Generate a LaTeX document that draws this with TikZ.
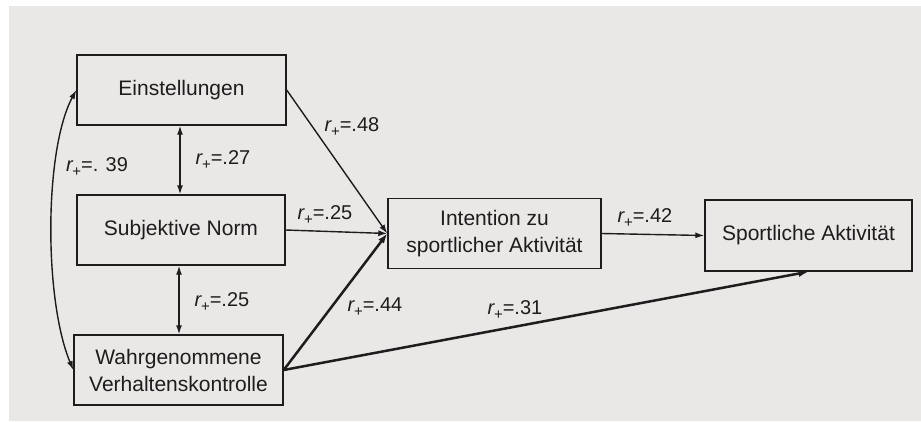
\documentclass[tikz,border=0pt]{standalone}
\usepackage{fontspec}
\setmainfont{Liberation Sans}
\usetikzlibrary{arrows.meta}
\definecolor{paper}{RGB}{234,232,231}
\definecolor{ink}{RGB}{30,28,28}
\newcommand{\rp}[1]{\textit{r}\kern-1pt\raisebox{-0.5ex}{\fontsize{15}{15}\selectfont +}=#1}
\begin{document}
\begin{tikzpicture}[x=1pt,y=-1pt,
  box/.style={draw=ink,line width=1.4pt,rectangle,inner sep=0pt,align=center,
    font=\fontsize{21}{27}\selectfont,text=ink},
  lbl/.style={font=\fontsize{20}{24}\selectfont,text=ink,inner sep=0pt},
  conn/.style={draw=ink,line width=1.4pt,-{Latex[length=9pt,width=6pt]}},
  dconn/.style={draw=ink,line width=1.4pt,{Latex[length=9pt,width=6pt]}-{Latex[length=9pt,width=6pt]}},
  thick conn/.style={draw=ink,line width=2.5pt,-{Latex[length=10pt,width=7pt]}}]
\useasboundingbox (0,0) rectangle (921,421);
\fill[white] (0,0) rectangle (921,421);
\fill[paper] (9,6) rectangle (921,421);
\node[box,minimum width=209pt,minimum height=70pt] (E) at (181.5,90) {Einstellungen};
\node[box,minimum width=208pt,minimum height=70pt] (S) at (181,230) {Subjektive Norm};
\node[box,minimum width=209pt,minimum height=70pt] (W) at (178.5,370) {Wahrgenommene\\Verhaltenskontrolle};
\node[box,minimum width=213pt,minimum height=70pt] (I) at (494.5,233.5) {Intention zu\\sportlicher Aktivität};
\node[box,minimum width=207pt,minimum height=71pt] (A) at (808.5,235.5) {Sportliche Aktivität};
\draw[conn] (E.east) -- (I.west);
\draw[conn] (S.east) -- (I.west);
\draw[thick conn] (W.east) -- (I.west);
\draw[thick conn] (W.east) -- (A.south);
\draw[conn] (I.east) -- (A.west);
\draw[dconn] ([xshift=-1.5pt]E.south) -- ([xshift=-1pt]S.north);
\draw[dconn] ([xshift=-2pt]S.south) -- ([xshift=0.5pt]W.north);
\draw[dconn] (E.west) .. controls (44,150) and (44,300) .. (W.west);
\node[lbl] (l48) at (352,127) {\rp{.48}};
\node[lbl] (l27) at (223,160) {\rp{.27}};
\node[lbl] (l39) at (97,167) {\rp{. 39}};
\node[lbl] (l25a) at (325,215) {\rp{.25}};
\node[lbl] (l25b) at (222,302) {\rp{.25}};
\node[lbl] (l44) at (375,307) {\rp{.44}};
\node[lbl] (l31) at (515,310) {\rp{.31}};
\node[lbl] (l42) at (645,218) {\rp{.42}};
\end{tikzpicture}
\end{document}
